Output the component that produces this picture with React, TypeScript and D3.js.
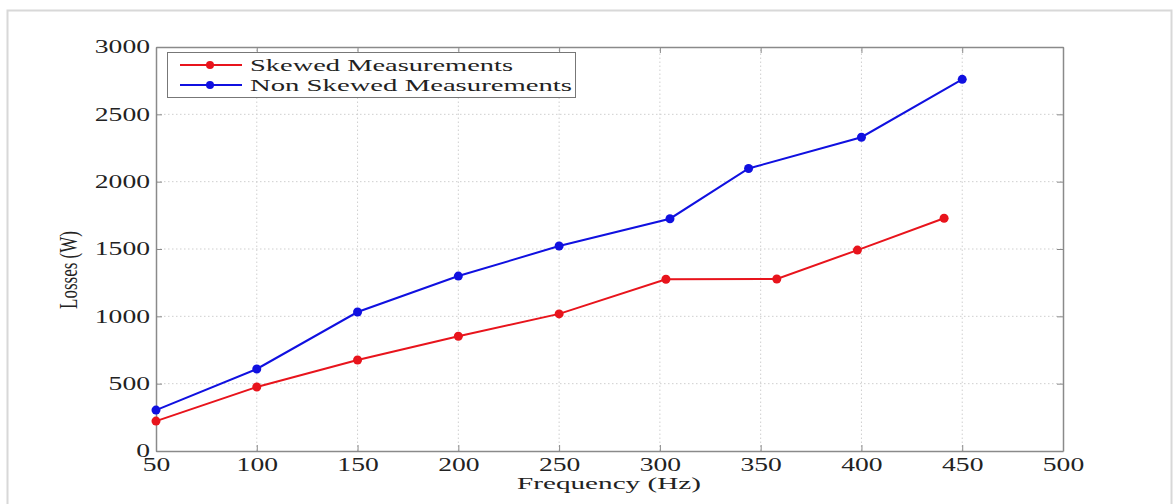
import React, { useEffect, useRef } from "react";
import * as d3 from "d3";

// Skewed measurements (red)
const skewedFreq = [50, 100, 150, 200, 250, 303, 358, 398, 441];
const skewedLoss = [222, 475, 676, 852, 1018, 1275, 1277, 1492, 1728];

// Non skewed measurements (blue)
const nonSkewedFreq = [50, 100, 150, 200, 250, 305, 344, 400, 450];
const nonSkewedLoss = [304, 609, 1032, 1299, 1522, 1725, 2098, 2330, 2760];

const xTicks = [50, 100, 150, 200, 250, 300, 350, 400, 450, 500];
const yTicks = [0, 500, 1000, 1500, 2000, 2500, 3000];

const seriesNames = ["Skewed Measurements", "Non Skewed Measurements"];
const seriesColors = ["#e8141c", "#1010e0"];

const FONT = "'Liberation Serif', 'Times New Roman', serif";

const App = () => {
  const ref = useRef<SVGSVGElement>(null);

  useEffect(() => {
    const svg = d3.select(ref.current);
    svg.selectAll("*").remove();

    const W = 1173;
    const H = 504;

    // Frame
    svg.append("rect").attr("width", W).attr("height", H).attr("fill", "#fff");
    svg
      .append("rect")
      .attr("x", 7.5)
      .attr("y", 10.5)
      .attr("width", W - 9)
      .attr("height", H)
      .attr("fill", "none")
      .attr("stroke", "#d8d8d8")
      .attr("stroke-width", 2);

    const x = d3.scaleLinear().domain([50, 500]).range([156, 1063]);
    const y = d3.scaleLinear().domain([0, 3000]).range([451, 47]);

    const [x0, x1] = x.range();
    const [y0, y1] = y.range();

    // Grid
    const grid = svg.append("g").attr("stroke", "#cfcfcf").attr("stroke-dasharray", "1.5,2.5");
    xTicks.slice(1, -1).forEach((t) => {
      grid.append("line").attr("x1", x(t)).attr("x2", x(t)).attr("y1", y0).attr("y2", y1);
    });
    yTicks.slice(1, -1).forEach((t) => {
      grid.append("line").attr("x1", x0).attr("x2", x1).attr("y1", y(t)).attr("y2", y(t));
    });

    // Axes
    const axisCol = "#8a8a8a";
    const fmt = d3.format("d");
    const styleAxis = (g: any) => {
      g.select(".domain").attr("stroke", axisCol).attr("stroke-width", 1.5);
      g.selectAll(".tick line").attr("stroke", axisCol);
      g.selectAll(".tick text")
        .attr("fill", "#222")
        .style("font-family", FONT)
        .style("font-size", "18px")
        .attr("textLength", (d: number) => String(d).length * 13.8)
        .attr("lengthAdjust", "spacingAndGlyphs");
    };

    svg
      .append("g")
      .attr("transform", `translate(0,${y0})`)
      .call(d3.axisBottom(x).tickValues(xTicks).tickFormat(fmt).tickSize(-6).tickPadding(7).tickSizeOuter(0))
      .call(styleAxis);

    svg
      .append("g")
      .attr("transform", `translate(${x0},0)`)
      .call(d3.axisLeft(y).tickValues(yTicks).tickFormat(fmt).tickSize(-6).tickPadding(6).tickSizeOuter(0))
      .call(styleAxis);

    svg
      .append("g")
      .attr("transform", `translate(0,${y1})`)
      .call(d3.axisTop(x).tickValues(xTicks).tickSize(-6).tickFormat(() => "").tickSizeOuter(0))
      .call(styleAxis);

    svg
      .append("g")
      .attr("transform", `translate(${x1},0)`)
      .call(d3.axisRight(y).tickValues(yTicks).tickSize(-6).tickFormat(() => "").tickSizeOuter(0))
      .call(styleAxis);

    // Lines
    const series = [
      skewedFreq.map((f, i) => [f, skewedLoss[i]]),
      nonSkewedFreq.map((f, i) => [f, nonSkewedLoss[i]]),
    ];
    const line = d3
      .line<number[]>()
      .x((d) => x(d[0]))
      .y((d) => y(d[1]));

    series.forEach((s, i) => {
      svg
        .append("path")
        .datum(s)
        .attr("d", line)
        .attr("fill", "none")
        .attr("stroke", seriesColors[i])
        .attr("stroke-width", 2);
      svg
        .selectAll(`.pt${i}`)
        .data(s)
        .enter()
        .append("circle")
        .attr("cx", (d) => x(d[0]))
        .attr("cy", (d) => y(d[1]))
        .attr("r", 4.5)
        .attr("fill", seriesColors[i]);
    });

    // Axis labels
    svg
      .append("text")
      .attr("x", 609)
      .attr("y", 489)
      .attr("text-anchor", "middle")
      .attr("fill", "#222")
      .style("font-family", FONT)
      .style("font-size", "17px")
      .attr("textLength", 184)
      .attr("lengthAdjust", "spacingAndGlyphs")
      .text("Frequency (Hz)");

    svg
      .append("text")
      .attr("transform", "translate(77,270) scale(1.5,1) rotate(-90)")
      .attr("text-anchor", "middle")
      .attr("fill", "#222")
      .style("font-family", FONT)
      .style("font-size", "17px")
      .text("Losses (W)");

    // Legend
    const lg = svg.append("g");
    lg.append("rect")
      .attr("x", 167.5)
      .attr("y", 52.5)
      .attr("width", 408)
      .attr("height", 45)
      .attr("fill", "#fff")
      .attr("stroke", "#777")
      .attr("stroke-width", 1);
    const legendWidths = [263, 322];
    seriesNames.forEach((name, i) => {
      const ly = 65 + i * 20;
      lg.append("line")
        .attr("x1", 180)
        .attr("x2", 242)
        .attr("y1", ly)
        .attr("y2", ly)
        .attr("stroke", seriesColors[i])
        .attr("stroke-width", 2);
      lg.append("circle").attr("cx", 210).attr("cy", ly).attr("r", 4).attr("fill", seriesColors[i]);
      lg.append("text")
        .attr("x", 250)
        .attr("y", ly + 6)
        .attr("fill", "#222")
        .style("font-family", FONT)
        .style("font-size", "17px")
        .attr("textLength", legendWidths[i])
        .attr("lengthAdjust", "spacingAndGlyphs")
        .text(name);
    });
  }, []);

  return (
    <svg
      ref={ref}
      width={1173}
      height={504}
      style={{ position: "absolute", left: 0, top: 0, display: "block" }}
    />
  );
};

export default App;
